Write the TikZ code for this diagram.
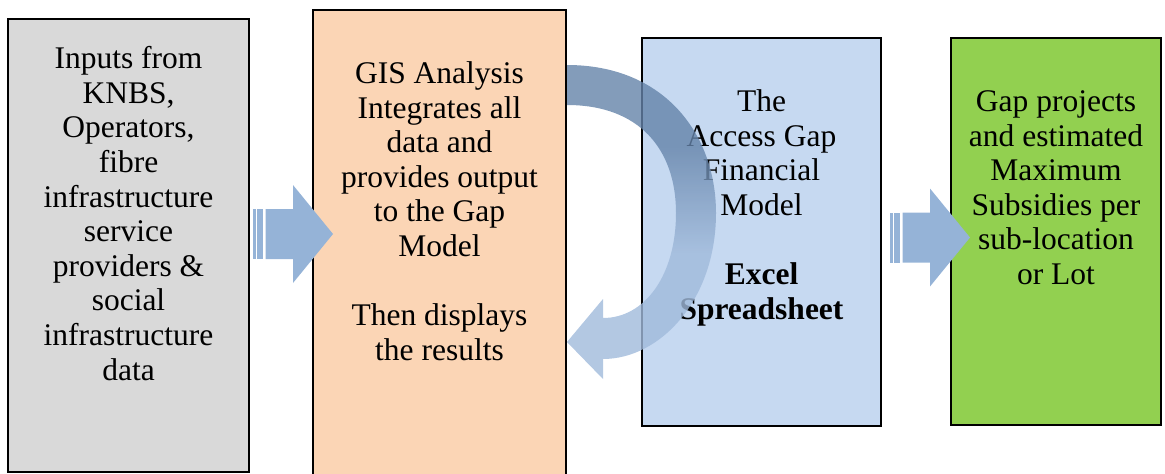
\documentclass[tikz,border=0pt]{standalone}
\usepackage{fontspec}
\setmainfont{Liberation Serif}
\usepackage{xcolor}
\usetikzlibrary{positioning, calc}
\definecolor{inputgray}{HTML}{D9D9D9}
\definecolor{gisorange}{HTML}{FBD5B5}
\definecolor{modelblue}{HTML}{C6D9F1}
\definecolor{gapgreen}{HTML}{92D050}
\definecolor{flowblue}{HTML}{95B3D7}
\definecolor{loopdark}{RGB}{100,131,169}
\definecolor{looplight}{RGB}{160,186,219}
\pgfdeclareverticalshading{loopshade}{100bp}{color(0bp)=(looplight);
  color(45bp)=(looplight); color(62bp)=(loopdark); color(100bp)=(loopdark)}

\begin{document}
\begin{tikzpicture}[x=1pt, y=-1pt,
  stage/.style={draw=black, line width=1.2pt, inner sep=0pt},
  stagetext/.style={align=center, inner sep=0pt,
    font=\fontsize{31.5}{34.6}\selectfont}]
  \clip (0,0) rectangle (1165,474);
  % the four stages
  \node[stage, fill=inputgray, minimum width=241pt, minimum height=453pt]
    (inputs) at (128.5,245.5) {};
  \node[stage, fill=gisorange, minimum width=253pt, minimum height=480pt]
    (gis) at (439.5,250) {};
  \node[stage, fill=modelblue, minimum width=239pt, minimum height=388pt]
    (model) at (761.5,232) {};
  \node[stage, fill=gapgreen, minimum width=210pt, minimum height=387pt]
    (gaps) at (1056,231.5) {};
  \node[stagetext, below=28pt of inputs.north] (inputstext)
    {Inputs from\\KNBS,\\Operators,\\fibre\\infrastructure\\service\\
     providers \&\\social\\infrastructure\\data};
  \node[stagetext, below=52pt of gis.north] (gistext)
    {GIS Analysis\\Integrates all\\data and\\provides output\\to the Gap\\
     Model\\[34.6pt]Then displays\\the results};
  \node[stagetext, below=52pt of model.north] (modeltext)
    {The\\Access Gap\\Financial\\Model\\[34.6pt]\textbf{Excel}\\
     \textbf{Spreadsheet}};
  \node[stagetext, below=53pt of gaps.north] (gapstext)
    {Gap projects\\and estimated\\Maximum\\Subsidies per\\sub-location\\or Lot};
  % striped block arrows
  \foreach \x/\y in {253/234, 890/237.5} {
    \fill[flowblue] (\x,\y-25) rectangle (\x+2.5,\y+25);
    \fill[flowblue] (\x+4,\y-25) rectangle (\x+10,\y+25);
    \fill[flowblue] (\x+12.5,\y-25) -- (\x+40,\y-25) -- (\x+40,\y-49)
      -- (\x+80,\y) -- (\x+40,\y+49) -- (\x+40,\y+25)
      -- (\x+12.5,\y+25) -- cycle;
  }
  % loop back from the model to the GIS
  \shade[shading=loopshade, fill opacity=0.8]
    (567,65) .. controls (665,65) and (716,135) .. (716,213)
    .. controls (716,300) and (660,359) .. (603,359)
    -- (603,379) -- (567,342) -- (603,299) -- (603,318)
    .. controls (645,318) and (676,275) .. (676,213)
    .. controls (676,150) and (640,105) .. (567,105) -- cycle;
\end{tikzpicture}
\end{document}
